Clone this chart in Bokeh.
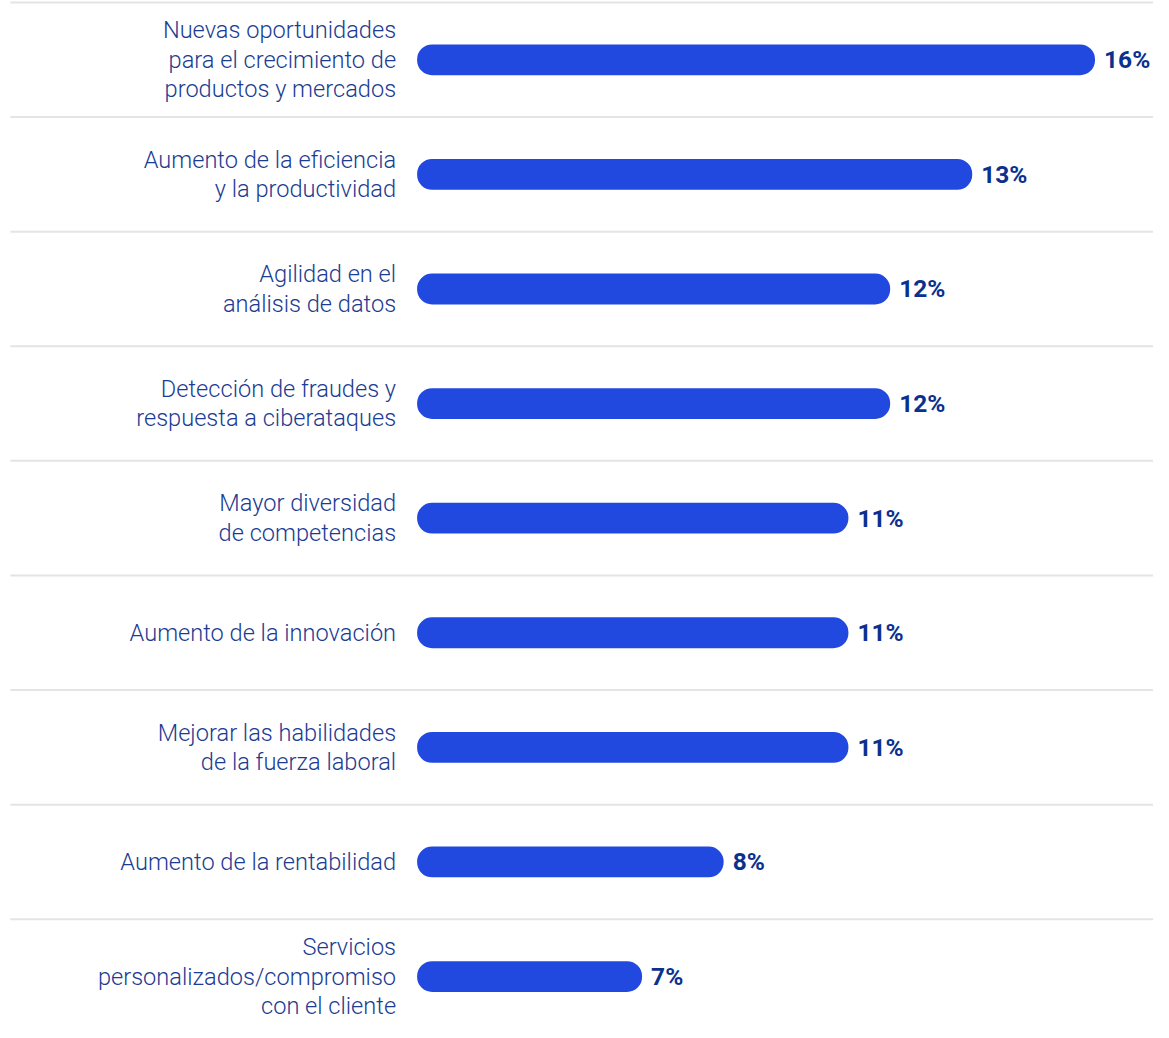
from bokeh.plotting import figure
from bokeh.models import ColumnDataSource, Range1d
from bokeh.core.properties import value
from bokeh.embed import file_html
from bokeh.resources import INLINE

categories = [
    "Nuevas oportunidades\npara el crecimiento de\nproductos y mercados",
    "Aumento de la eficiencia\ny la productividad",
    "Agilidad en el\nanálisis de datos",
    "Detección de fraudes y\nrespuesta a ciberataques",
    "Mayor diversidad\nde competencias",
    "Aumento de la innovación",
    "Mejorar las habilidades\nde la fuerza laboral",
    "Aumento de la rentabilidad",
    "Servicios\npersonalizados/compromiso\ncon el cliente",
]
# bar lengths (percent units)
values = [15.96, 13.46, 11.79, 11.79, 10.94, 10.94, 10.94, 8.40, 6.74]
value_labels = ["16%", "13%", "12%", "12%", "11%", "11%", "11%", "8%", "7%"]

BAR_BASE = 2.16          # visual inset where the rounded bars begin
X_START, X_END = -6.32, 17.15
BAR_COLOR = "#2149e0"
CAT_COLOR = "#1b3c92"
VAL_COLOR = "#0b318f"
SEP_COLOR = "#e4e4e4"

rows = list(range(len(categories)))
src = ColumnDataSource(dict(y=rows, cat=categories, value=values, label=value_labels))
sep = ColumnDataSource(dict(y=[r - 0.5 for r in rows]))

p = figure(width=1153, height=1022,
           x_range=Range1d(X_START, X_END), y_range=Range1d(8.401, -0.5174),
           x_axis_location=None, y_axis_location=None,
           toolbar_location=None, output_backend="svg",
           min_border=0, outline_line_color=None,
           background_fill_color="white", border_fill_color="white")
p.grid.visible = False

p.segment(x0=X_START + 0.2, x1=X_END, y0="y", y1="y", source=sep,
          line_color=SEP_COLOR, line_width=2)

p.hbar(y="y", left=BAR_BASE, right="value", height=0.269, source=src,
       fill_color=BAR_COLOR, line_color=None, border_radius=15)

p.text(x="value", y="y", text="label", source=src, x_offset=9,
       text_baseline="middle", text_align="left",
       text_font=value("Roboto"), text_font_style="bold",
       text_font_size="24.5px", text_color=VAL_COLOR)

p.text(x=BAR_BASE, y="y", text="cat", source=src, x_offset=-21,
       text_baseline="middle", text_align="right",
       text_font=value("Roboto Light"), text_font_size="23.6px",
       text_line_height=1.06, text_color=CAT_COLOR)

open("out.html", "w").write(file_html(p, INLINE))
